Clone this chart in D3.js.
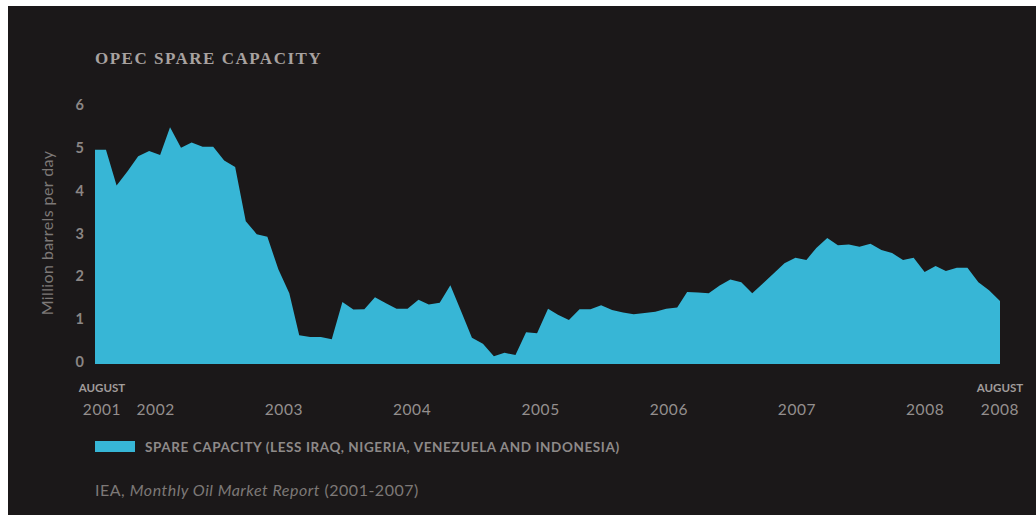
<!DOCTYPE html>
<html>
<head>
<meta charset="utf-8">
<script src="https://cdn.jsdelivr.net/npm/d3@7"></script>
<style>
  html, body { margin: 0; padding: 0; background: #ffffff; }
  svg { display: block; }
</style>
</head>
<body>
<svg id="chart" width="1036" height="515"></svg>
<script>
// ---- Data (monthly, August 2001 – August 2008) ----
const startMonth = "2001-08";
const endMonth = "2008-08";
const spareCapacity = [
  5.00, 5.00, 4.17, 4.50, 4.85, 4.97, 4.88, 5.53, 5.05, 5.17, 5.07, 5.07,
  4.75, 4.60, 3.33, 3.03, 2.97, 2.21, 1.65, 0.67, 0.63, 0.63, 0.58, 1.45,
  1.27, 1.28, 1.56, 1.42, 1.29, 1.29, 1.50, 1.39, 1.43, 1.84, 1.22, 0.61,
  0.47, 0.18, 0.26, 0.21, 0.74, 0.72, 1.29, 1.15, 1.03, 1.28, 1.28, 1.37,
  1.26, 1.20, 1.16, 1.19, 1.22, 1.29, 1.32, 1.68, 1.67, 1.65, 1.83, 1.97,
  1.91, 1.65, 1.88, 2.12, 2.35, 2.48, 2.43, 2.71, 2.94, 2.77, 2.79, 2.74,
  2.81, 2.66, 2.59, 2.43, 2.48, 2.15, 2.29, 2.17, 2.25, 2.25, 1.91, 1.72,
  1.47
];
const yTicks = [0, 1, 2, 3, 4, 5, 6];
const yearTicks = ["2002", "2003", "2004", "2005", "2006", "2007", "2008"];
const endLabels = [
  { month: "2001-08", top: "AUGUST", bottom: "2001" },
  { month: "2008-08", top: "AUGUST", bottom: "2008" }
];
const titleText = "OPEC SPARE CAPACITY";
const yAxisTitle = "Million barrels per day";
const legendText = "SPARE CAPACITY (LESS IRAQ, NIGERIA, VENEZUELA AND INDONESIA)";
const sourceParts = [
  { text: "IEA, ", italic: false },
  { text: "Monthly Oil Market Report", italic: true },
  { text: " (2001-2007)", italic: false }
];

// ---- Setup ----
const parseMonth = d3.timeParse("%Y-%m");
const parseYear = d3.timeParse("%Y");
const t0 = parseMonth(startMonth), t1 = parseMonth(endMonth);
const months = d3.timeMonth.range(t0, d3.timeMonth.offset(t1, 1));
const data = months.map((d, i) => ({ date: d, value: spareCapacity[i] }));

const svg = d3.select("#chart");
const BG = "#1b1819";
const FILL = "#37b6d6";
const FONT = "Lato, 'Open Sans', sans-serif";

svg.append("rect").attr("x", 8).attr("y", 6).attr("width", 1028).attr("height", 509).attr("fill", BG);

const x = d3.scaleTime().domain([t0, t1]).range([95, 1000]);
const xLabel = d3.scaleTime().domain([t0, t1]).range([102, 1000]);
const y = d3.scaleLinear().domain([0, 6]).range([364, 107]);

// Title
svg.append("text")
  .attr("x", 95).attr("y", 64)
  .attr("fill", "#a8a2a0")
  .style("font-family", "'Liberation Serif', 'DejaVu Serif', serif")
  .style("font-weight", "bold")
  .style("font-size", "17px")
  .style("letter-spacing", "1.5px")
  .text(titleText);

// Area
const area = d3.area()
  .x(d => x(d.date))
  .y0(y(0))
  .y1(d => y(d.value));
svg.append("path").datum(data).attr("d", area).attr("fill", FILL);

// Y axis
const yAxis = d3.axisLeft(y).tickValues(yTicks).tickSize(0).tickPadding(11).tickFormat(d3.format("d"));
const gy = svg.append("g").attr("transform", "translate(95,-2)").call(yAxis);
gy.select(".domain").remove();
gy.selectAll("text")
  .attr("fill", "#8b8685")
  .style("font-family", FONT)
  .style("font-weight", "bold")
  .style("font-size", "14.5px");

// Y axis title
svg.append("text")
  .attr("transform", "translate(53,233) rotate(-90)")
  .attr("text-anchor", "middle")
  .attr("fill", "#7d7877")
  .style("font-family", FONT)
  .style("font-size", "16px")
  .style("letter-spacing", "0.4px")
  .text(yAxisTitle);

// X axis year labels
const gx = svg.append("g");
gx.selectAll("text.year").data(yearTicks).join("text")
  .attr("class", "year")
  .attr("x", d => xLabel(parseYear(d)))
  .attr("y", 415)
  .attr("text-anchor", "middle")
  .attr("fill", "#948f8e")
  .style("font-family", FONT)
  .style("font-size", "15.5px")
  .style("letter-spacing", "0.6px")
  .text(d => d);

// End labels (AUGUST 2001 / AUGUST 2008)
endLabels.forEach(l => {
  const cx = xLabel(parseMonth(l.month));
  gx.append("text")
    .attr("x", cx).attr("y", 392)
    .attr("text-anchor", "middle")
    .attr("fill", "#a19c9b")
    .style("font-family", FONT)
    .style("font-weight", "bold")
    .style("font-size", "11.5px")
    .text(l.top);
  gx.append("text")
    .attr("x", cx).attr("y", 415)
    .attr("text-anchor", "middle")
    .attr("fill", "#948f8e")
    .style("font-family", FONT)
    .style("font-size", "15.5px")
    .style("letter-spacing", "0.6px")
    .text(l.bottom);
});

// Legend
svg.append("rect").attr("x", 95).attr("y", 441).attr("width", 40).attr("height", 11).attr("fill", FILL);
svg.append("text")
  .attr("x", 145).attr("y", 451.5)
  .attr("fill", "#8e8a89")
  .style("font-family", FONT)
  .style("font-weight", "bold")
  .style("font-size", "13.5px")
  .style("letter-spacing", "0.6px")
  .text(legendText);

// Source
const src = svg.append("text")
  .attr("x", 95).attr("y", 496)
  .attr("fill", "#7d7877")
  .style("font-family", FONT)
  .style("font-size", "16px")
  .style("letter-spacing", "0.5px");
src.selectAll("tspan").data(sourceParts).join("tspan")
  .style("font-style", d => d.italic ? "italic" : "normal")
  .text(d => d.text);
</script>
</body>
</html>
